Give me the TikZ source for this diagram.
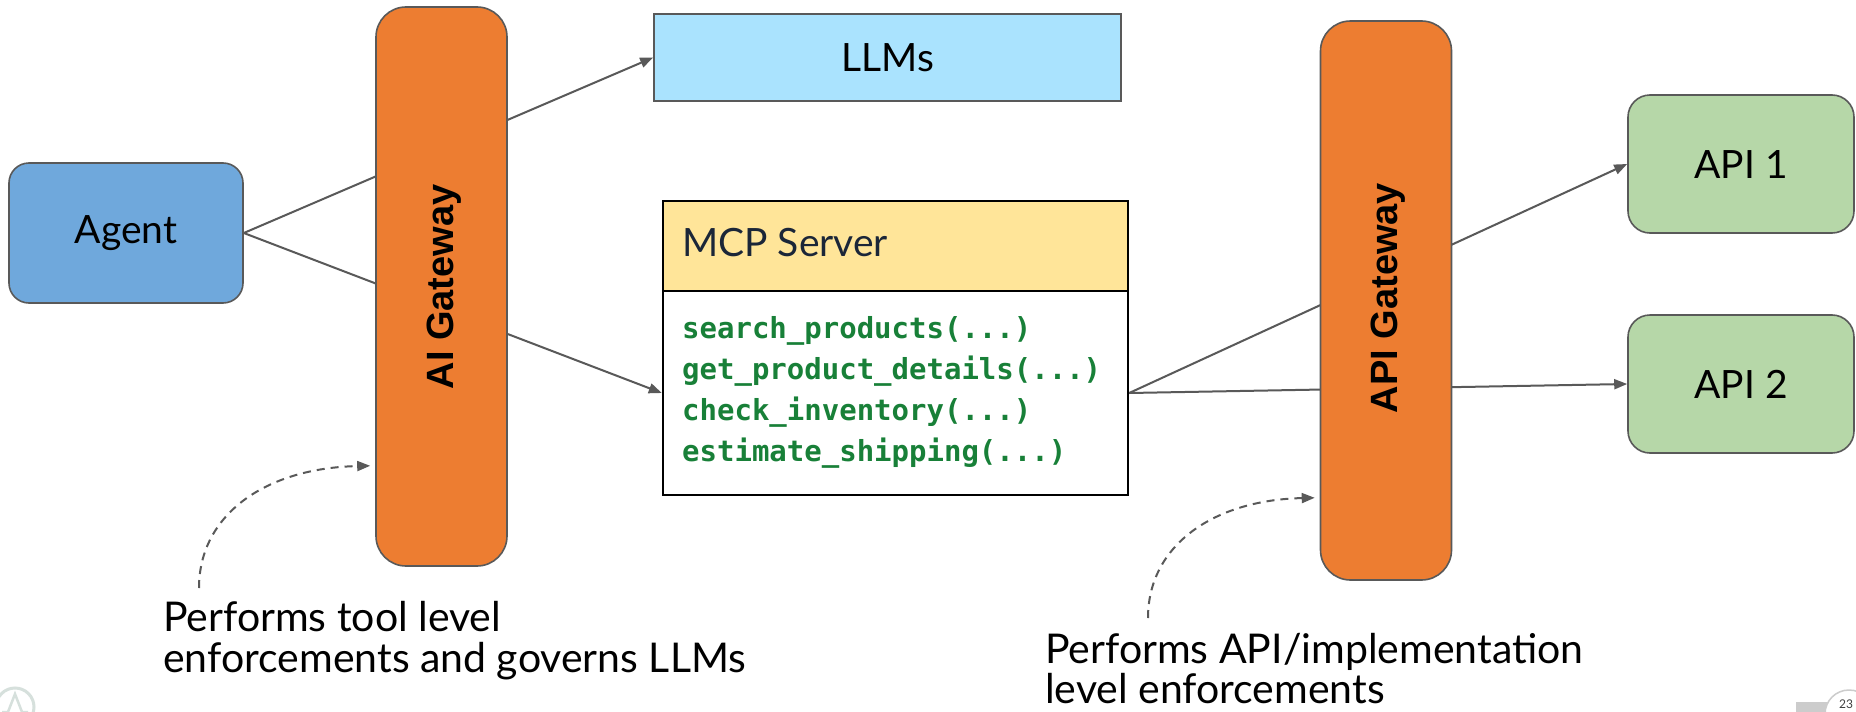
\documentclass[tikz,border=0pt]{standalone}
\usepackage{fontspec}
\setmainfont{Lato}
\newfontfamily\gwfont{Liberation Sans}
\newfontfamily\codefont{DejaVu Sans Mono}
\usetikzlibrary{arrows.meta,calc}
\pgfdeclarelayer{bg}
\pgfsetlayers{bg,main}
\definecolor{agentblue}{HTML}{6FA8DC}
\definecolor{gworange}{HTML}{ED7D31}
\definecolor{llmcyan}{HTML}{AAE3FE}
\definecolor{mcpyellow}{HTML}{FFE599}
\definecolor{apigreen}{HTML}{B6D7A8}
\definecolor{bordergray}{HTML}{595959}
\definecolor{codegreen}{HTML}{188038}
\definecolor{navytext}{HTML}{1B2638}
\definecolor{logogray}{HTML}{D6E0DC}
\begin{document}
\begin{tikzpicture}[x=1pt,y=-1pt,
  box/.style={draw=bordergray, line width=1.6pt, inner sep=0pt, text=black,
    font=\fontsize{39}{44}\selectfont},
  gwbox/.style={box, fill=gworange, rounded corners=30pt, minimum width=131pt, minimum height=559pt},
  gwlabel/.style={rotate=90, font=\gwfont\bfseries\fontsize{38}{44}\selectfont, text=black, inner sep=0pt},
  mcppart/.style={draw=black, line width=2.4pt, minimum width=465pt, inner sep=0pt},
  codeline/.style={anchor=base west, inner sep=0pt, text=codegreen,
    font=\codefont\bfseries\fontsize{29}{41}\selectfont},
  annot/.style={anchor=base west, inner sep=0pt, text=black, font=\fontsize{41}{42}\selectfont},
  conn/.style={draw=bordergray, line width=2pt, -{Triangle[length=13pt,width=10pt]}},
  dconn/.style={draw=bordergray, line width=2pt, dash pattern=on 8pt off 6pt,
    -{Triangle[length=13pt,width=10pt]}}
]
\useasboundingbox (0,0) rectangle (1856,712);
\begin{pgfonlayer}{bg}
\fill[white] (0,0) rectangle (1856,712);
\end{pgfonlayer}

% nodes
\node[box, fill=agentblue, rounded corners=20pt, minimum width=234pt, minimum height=140pt] (agent) at (126,233) {Agent};
\node[gwbox] (aig) at (441.5,286.5) {};
\node[gwlabel] (aiglabel) at (444,287) {AI Gateway};
\node[box, fill=llmcyan, minimum width=467pt, minimum height=87pt] (llm) at (887.5,57.5) {LLMs};
\node[mcppart, fill=mcpyellow, minimum height=90pt] (mcph) at (895.5,246) {};
\node[mcppart, fill=white, minimum height=204pt] (mcpb) at (895.5,393) {};
\node[anchor=base west, inner sep=0pt, text=navytext, font=\fontsize{39}{44}\selectfont] (mcpt) at (682,256) {MCP Server};
\node[codeline] (code1) at (682,338) {search\_products(...)};
\node[codeline] (code2) at (682,379) {get\_product\_details(...)};
\node[codeline] (code3) at (682,420) {check\_inventory(...)};
\node[codeline] (code4) at (682,461) {estimate\_shipping(...)};
\node[gwbox] (apig) at (1386,300.5) {};
\node[gwlabel] (apiglabel) at (1388,298) {API Gateway};
\node[box, fill=apigreen, rounded corners=22pt, minimum width=226pt, minimum height=138pt] (api1) at (1741,164) {API 1};
\node[box, fill=apigreen, rounded corners=22pt, minimum width=226pt, minimum height=138pt] (api2) at (1741,384) {API 2};

% annotations
\node[annot] (ann1a) at (163,631) {Performs tool level};
\node[annot] (ann1b) at (163,672) {enforcements and governs LLMs};
\node[annot] (ann2a) at (1045,663) {Performs API/implementation};
\node[annot] (ann2b) at (1045,703) {level enforcements};

% dashed pointers
\coordinate (d1s) at (199,588);
\coordinate (d1e) at ($(aig.south west)+(-5,-101)$);
\coordinate (d2s) at (1148,618);
\coordinate (d2e) at ($(apig.south west)+(-5,-83)$);
\draw[dconn] (d1s) .. controls (199,515) and (265,468) .. (d1e);
\draw[dconn] (d2s) .. controls (1148,545) and (1214,500) .. (d2e);

% connectors behind gateways
\begin{pgfonlayer}{bg}
\draw[conn] (agent.east) -- (llm.west);
\draw[conn] (agent.east) -- (mcpb.west);
\draw[conn] (mcpb.east) -- (api1.west);
\draw[conn] (mcpb.east) -- (api2.west);
\end{pgfonlayer}

% slide decorations
\draw[logogray, line width=3pt] (15,707) circle (19);
\draw[logogray, line width=2.5pt] (2,712) -- (8,712) -- (15,694) -- (22,712) -- (28,712);
\fill[black!20] (1796,702) rectangle (1828,712);
\draw[black!20, line width=1.5pt, fill=white] (1849,714) circle (24);
\node[inner sep=0pt, anchor=base, text=black!75, font=\fontsize{12}{13}\selectfont] (pnum) at (1846,708) {23};
\end{tikzpicture}
\end{document}
